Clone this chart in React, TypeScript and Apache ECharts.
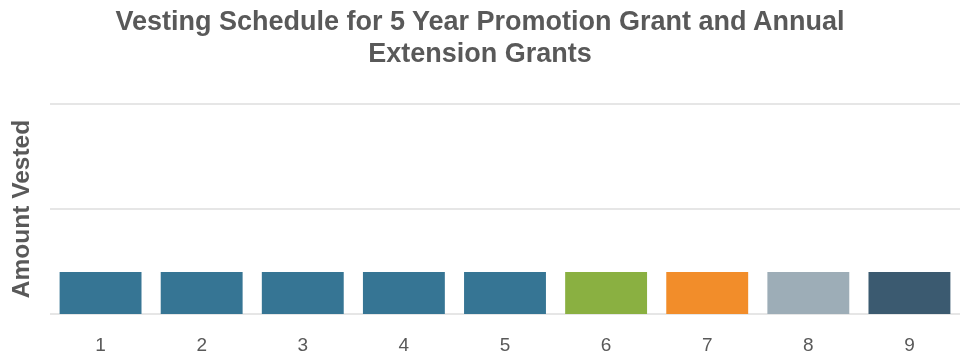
import React, { useEffect, useRef } from "react";
import * as echarts from "echarts";

const categories = ["1", "2", "3", "4", "5", "6", "7", "8", "9"];
const values = [0.2, 0.2, 0.2, 0.2, 0.2, 0.2, 0.2, 0.2, 0.2];
const barColors = ["#367594", "#367594", "#367594", "#367594", "#367594", "#8AB041", "#F28D2A", "#9DADB7", "#3B5A70"];

export default function App() {
  const ref = useRef<HTMLDivElement>(null);
  useEffect(() => {
    if (!ref.current) return;
    const chart = echarts.init(ref.current, null, { renderer: "svg" });
    chart.setOption({
      animation: false,
      title: {
        text: "Vesting Schedule for 5 Year Promotion Grant and Annual\nExtension Grants",
        left: "center",
        top: 0,
        textStyle: {
          fontFamily: "Liberation Sans, Arial, sans-serif",
          fontSize: 27,
          fontWeight: "bold",
          color: "#595959",
          lineHeight: 32,
        },
      },
      grid: { left: 43, right: 0, top: 104, bottom: 40 },
      xAxis: {
        type: "category",
        data: categories,
        axisLine: { show: false },
        axisTick: { show: false },
        axisLabel: {
          fontFamily: "Liberation Sans, Arial, sans-serif",
          fontSize: 19,
          color: "#595959",
          margin: 21,
        },
      },
      yAxis: {
        type: "value",
        min: 0,
        max: 1,
        interval: 0.5,
        name: "Amount Vested",
        nameLocation: "middle",
        nameGap: 17,
        nameTextStyle: {
          fontFamily: "Liberation Sans, Arial, sans-serif",
          fontSize: 24.5,
          fontWeight: "bold",
          color: "#595959",
        },
        axisLabel: { show: false },
        axisLine: { show: false },
        axisTick: { show: false },
        splitLine: { lineStyle: { color: "#E6E6E6", width: 2 } },
      },
      series: [
        {
          type: "bar",
          data: values.map((v, i) => ({ value: v, itemStyle: { color: barColors[i] } })),
          barCategoryGap: "19%",
        },
      ],
    });
    return () => chart.dispose();
  }, []);
  return <div ref={ref} style={{ position: "fixed", left: 0, top: 0, width: 960, height: 354 }} />;
}
